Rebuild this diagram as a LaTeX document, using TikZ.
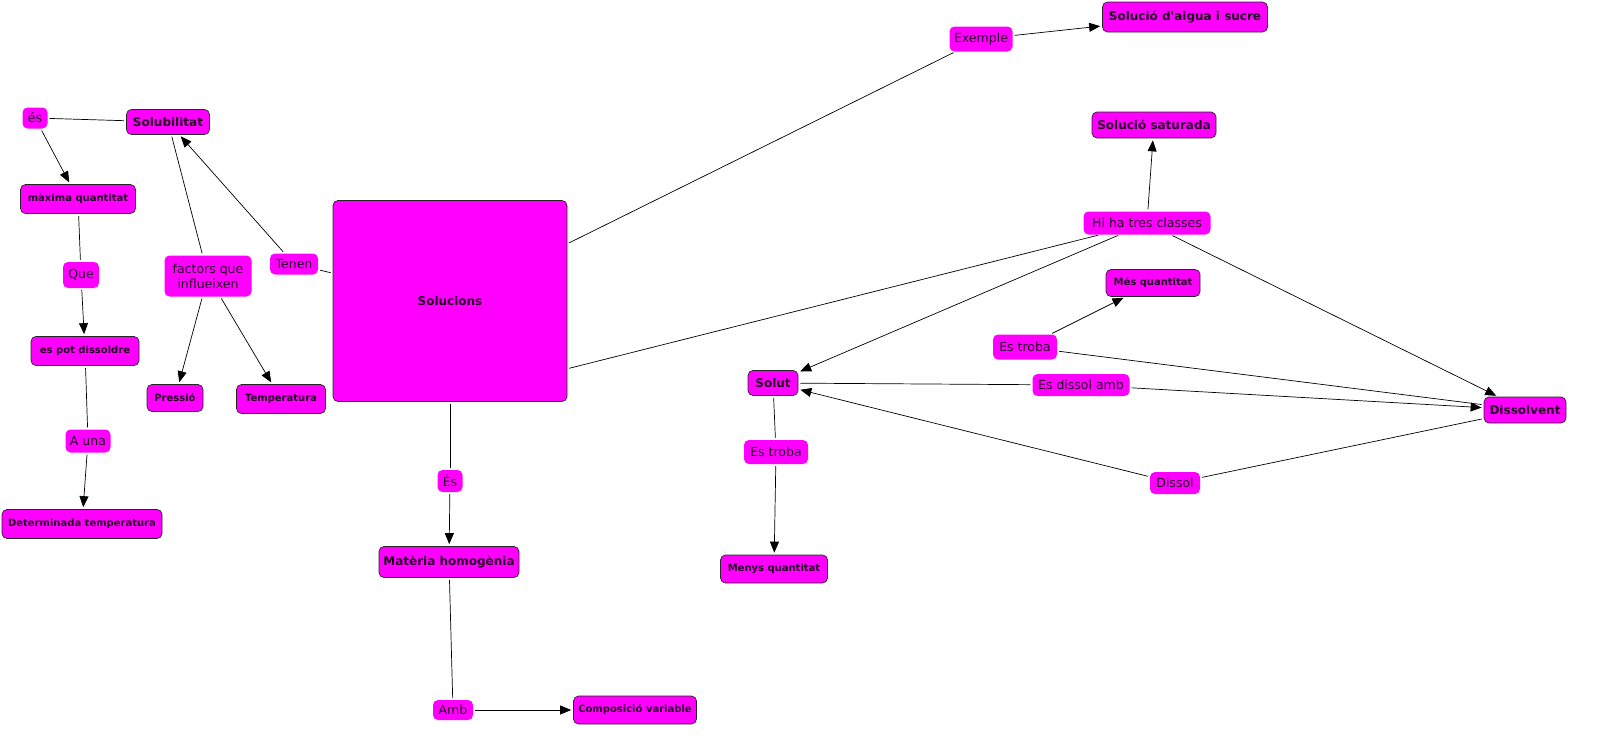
\documentclass[tikz,border=0pt]{standalone}
\usepackage{fontspec}
\setmainfont{DejaVu Sans}[Ligatures=TeXOff]
\usetikzlibrary{arrows.meta}
\definecolor{mag}{HTML}{FF00FF}
\definecolor{txt}{HTML}{220022}
\begin{document}
\begin{tikzpicture}[x=1pt,y=-1pt,
  base/.style={rounded corners=5pt, fill=mag, inner sep=0pt, text=txt, align=center},
  concept/.style={base, draw=black!85, line width=0.7pt, font=\bfseries\fontsize{10}{12}\selectfont},
  bigc/.style={concept, font=\bfseries\fontsize{12}{14}\selectfont},
  link/.style={base, draw=none, font=\fontsize{12.5}{15}\selectfont},
  conn/.style={draw=black, line width=0.7pt, shorten >=2pt, shorten <=2pt},
  arr/.style={conn, -{Triangle[length=11pt,width=9pt]}}
]
\useasboundingbox (0,0) rectangle (1610,744);
% concepts
\node[bigc, minimum width=83, minimum height=25] (solub) at (168,122) {Solubilitat};
\node[concept, minimum width=115, minimum height=29] (maxq) at (78,199) {màxima quantitat};
\node[concept, minimum width=108, minimum height=29] (espot) at (85,351) {es pot dissoldre};
\node[concept, minimum width=160, minimum height=29] (detemp) at (82,524) {Determinada temperatura};
\node[concept, minimum width=56, minimum height=27] (press) at (175,398) {Pressió};
\node[concept, minimum width=89, minimum height=29] (temp) at (281,399) {Temperatura};
\node[bigc, minimum width=234, minimum height=201] (sol) at (450,301) {Solucions};
\node[bigc, minimum width=140, minimum height=31] (mat) at (449,562) {Matèria homogènia};
\node[concept, minimum width=123, minimum height=28] (comp) at (635,710) {Composició variable};
\node[bigc, minimum width=165, minimum height=30] (aigua) at (1185,17) {Solució d'aigua i sucre};
\node[bigc, minimum width=124, minimum height=26] (satur) at (1154,125) {Solució saturada};
\node[concept, minimum width=94, minimum height=27] (mesq) at (1153,283) {Més quantitat};
\node[bigc, minimum width=50, minimum height=25] (solut) at (773,383) {Solut};
\node[bigc, minimum width=82, minimum height=26] (dissolv) at (1525,410) {Dissolvent};
\node[concept, minimum width=107, minimum height=28] (menys) at (774,569) {Menys quantitat};
% linking phrases
\node[link, minimum width=25, minimum height=21] (es1) at (35,118) {és};
\node[link, minimum width=36, minimum height=26] (que) at (81,275) {Que};
\node[link, minimum width=45, minimum height=23] (auna) at (88,441) {A una};
\node[link, minimum width=87, minimum height=41] (factors) at (208,276) {factors que\\influeixen};
\node[link, minimum width=48, minimum height=21] (tenen) at (294,264) {Tenen};
\node[link, minimum width=25, minimum height=22] (es2) at (450,481) {És};
\node[link, minimum width=40, minimum height=20] (amb) at (453,710) {Amb};
\node[link, minimum width=63, minimum height=25] (exemple) at (981,39) {Exemple};
\node[link, minimum width=127, minimum height=23] (hiha) at (1147,223) {Hi ha tres classes};
\node[link, minimum width=64, minimum height=25] (trobaA) at (1025,347) {Es troba};
\node[link, minimum width=97, minimum height=22] (dissolamb) at (1081,385) {Es dissol amb};
\node[link, minimum width=64, minimum height=24] (trobaB) at (776,452) {Es troba};
\node[link, minimum width=50, minimum height=22] (dissol) at (1175,483) {Dissol};
% connectors
\draw[conn] (solub) -- (es1);
\draw[arr] (es1) -- (maxq);
\draw[conn] (maxq) -- (que);
\draw[arr] (que) -- (espot);
\draw[conn] (espot) -- (auna);
\draw[arr] (auna) -- (detemp);
\draw[conn] (solub) -- (factors);
\draw[arr] (factors) -- (press);
\draw[arr] (factors) -- (temp);
\draw[conn] (sol) -- (tenen);
\draw[arr] (tenen) -- (solub);
\draw[conn] (sol) -- (es2);
\draw[arr] (es2) -- (mat);
\draw[conn] (mat) -- (amb);
\draw[arr] (amb) -- (comp);
\draw[conn] (sol.26) -- (exemple);
\draw[arr] (exemple) -- (aigua);
\draw[conn] (sol.-30) -- (hiha.194);
\draw[arr] (hiha) -- (satur);
\draw[arr] (hiha) -- (solut);
\draw[arr] (hiha) -- (dissolv);
\draw[conn] (dissolv) -- (trobaA);
\draw[arr] (trobaA) -- (mesq);
\draw[conn] (solut) -- (dissolamb);
\draw[arr] (dissolamb) -- (dissolv);
\draw[conn] (dissolv) -- (dissol);
\draw[arr] (dissol) -- (solut);
\draw[conn] (solut) -- (trobaB);
\draw[arr] (trobaB) -- (menys);
\end{tikzpicture}
\end{document}
